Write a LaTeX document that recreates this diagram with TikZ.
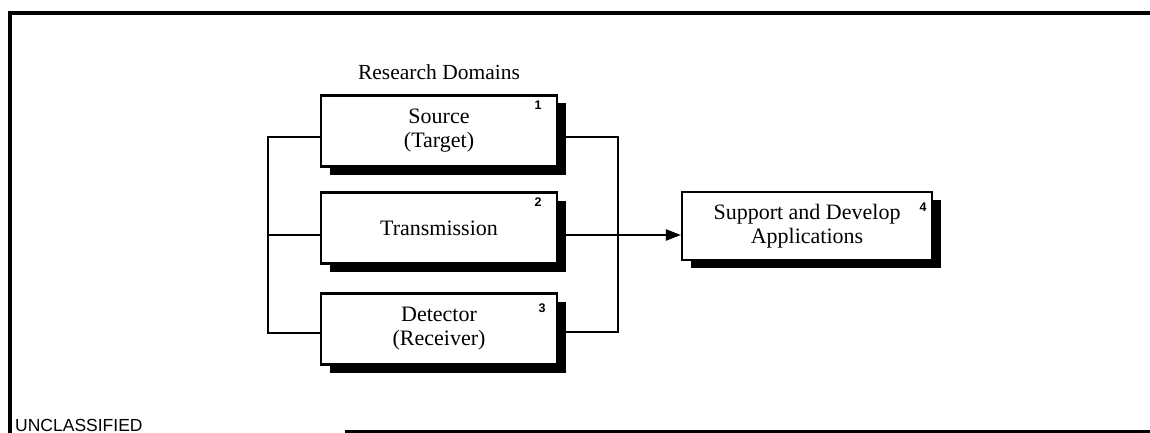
\documentclass[tikz,border=0pt]{standalone}
\usepackage{fontspec}
\setmainfont{Liberation Serif}
\setsansfont{Liberation Sans}
\usetikzlibrary{shadows,arrows.meta}
\begin{document}
\begin{tikzpicture}[x=1pt,y=-1pt,
  domainbox/.style={draw,line width=2.2pt,fill=white,minimum width=236pt,minimum height=71pt,
    align=center,inner sep=0pt,font=\fontsize{22}{24}\selectfont,
    drop shadow={shadow xshift=9pt,shadow yshift=-8pt,fill=black,opacity=1}},
  numlabel/.style={font=\sffamily\bfseries\fontsize{12.5}{14}\selectfont,inner sep=0pt},
  wire/.style={line width=2pt},
  frame/.style={line width=3.5pt}]
\useasboundingbox (0,0) rectangle (1150,433);
% frame
\draw[frame] (1150,13) -- (10,13) -- (10,433);
\draw[line width=3pt] (345,431) -- (1150,431);
\node[font=\sffamily\fontsize{17.5}{20}\selectfont,anchor=base west,inner sep=0pt] (uncl) at (15,431) {UNCLASSIFIED};
% title
\node[font=\fontsize{21.5}{23}\selectfont,inner sep=0pt] (title) at (439,72) {Research Domains};
% boxes
\node[domainbox] (b1) at (439,131) {Source\\(Target)};
\node[domainbox] (b2) at (439,228) {Transmission};
\node[domainbox] (b3) at (439,329) {Detector\\(Receiver)};
\node[domainbox,minimum width=250pt,minimum height=68pt] (b4) at (807,226) {Support and Develop\\Applications};
\node[numlabel] (n1) at ([xshift=-20pt,yshift=-11pt]b1.north east) {1};
\node[numlabel] (n2) at ([xshift=-20pt,yshift=-11pt]b2.north east) {2};
\node[numlabel] (n3) at ([xshift=-16pt,yshift=-16pt]b3.north east) {3};
\node[numlabel] (n4) at ([xshift=-10pt,yshift=-16pt]b4.north east) {4};
% buses
\coordinate (L1) at (268,137);
\coordinate (L2) at (268,235);
\coordinate (L3) at (268,333);
\coordinate (R1) at (618,137);
\coordinate (R2) at (618,235);
\coordinate (R3) at (618,332);
\draw[wire] (b1.west |- L1) -- (L1) -- (L3) -- (b3.west |- L3);
\draw[wire] (L2) -- (b2.west |- L2);
\draw[wire] (b1.east |- R1) -- (R1) -- (R3) -- (b3.east |- R3);
\draw[wire,-{Triangle[length=15pt,width=11pt]}] (b2.east |- R2) -- (b4.west |- R2);
\end{tikzpicture}
\end{document}
